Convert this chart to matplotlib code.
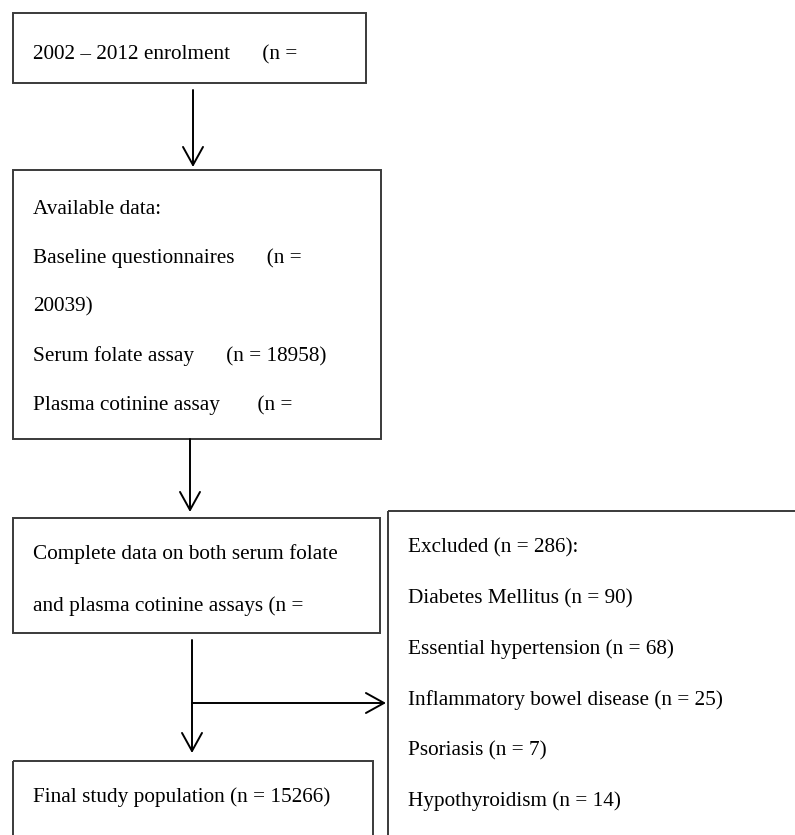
import matplotlib.pyplot as plt
from matplotlib.patches import Rectangle

plt.rcParams['font.family'] = ['Liberation Serif', 'DejaVu Serif']

### TEXT
enrol_lines = ["2002 \u2013 2012 enrolment      (n ="]
avail_lines = ["Available data:",
               "Baseline questionnaires      (n =",
               "20039)",
               "Serum folate assay      (n = 18958)",
               "Plasma cotinine assay       (n ="]
complete_lines = ["Complete data on both serum folate",
                  "and plasma cotinine assays (n ="]
final_lines = ["Final study population (n = 15266)"]
excluded_lines = ["Excluded (n = 286):",
                  "Diabetes Mellitus (n = 90)",
                  "Essential hypertension (n = 68)",
                  "Inflammatory bowel disease (n = 25)",
                  "Psoriasis (n = 7)",
                  "Hypothyroidism (n = 14)"]

### LAYOUT (pixels, y down)
W, H = 795, 835
# box: (left, top, right, bottom), text x, first line y, line step
boxes = [
    (enrol_lines, (13, 13, 366, 83), 33, 55, 50),
    (avail_lines, (13, 170, 381, 439), 33, 209, 49),
    (complete_lines, (13, 518, 380, 633), 33, 554, 52),
    (final_lines, (13, 761, 373, 850), 33, 797, 50),
    (excluded_lines, (388, 511, 810, 850), 408, 548, 50.6),
]

fig = plt.figure(figsize=(W / 100, H / 100), dpi=100)
ax = fig.add_axes([0, 0, 1, 1])
ax.set_xlim(0, W)
ax.set_ylim(H, 0)
ax.axis('off')

for lines, (l, t, r, b), tx, ty, step in boxes:
    ax.add_patch(Rectangle((l, t), r - l, b - t, fill=False,
                           edgecolor='#3a3a3a', linewidth=1.4, clip_on=True))
    for i, s in enumerate(lines):
        ax.text(tx, ty + i * step, s, fontsize=15.3, va='center', ha='left',
                color='black')

arrow_kw = dict(arrowstyle='->,head_length=13,head_width=7.2', color='black',
                linewidth=1.4, shrinkA=0, shrinkB=0, mutation_scale=1)

# arrows: (x0, y0) -> (x1, y1)
arrows = [((193, 90), (193, 167)),
          ((190, 439), (190, 512)),
          ((192, 640), (192, 753)),
          ((192, 703), (386, 703))]
for (x0, y0), (x1, y1) in arrows:
    ax.annotate('', xy=(x1, y1), xytext=(x0, y0), arrowprops=arrow_kw)

fig.savefig('out.png', dpi=100)
